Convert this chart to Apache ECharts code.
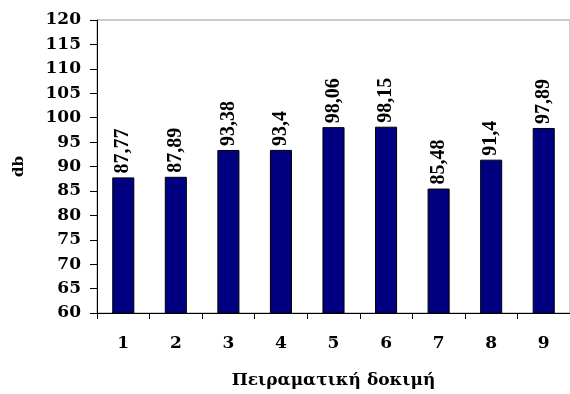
<!DOCTYPE html>
<html>
<head>
<meta charset="utf-8">
<script src="https://cdn.jsdelivr.net/npm/echarts@6/dist/echarts.min.js"></script>
<style>
  html, body { margin: 0; padding: 0; background: #fff; }
  #chart { width: 570px; height: 394px; }
</style>
</head>
<body>
<div id="chart"></div>
<script>
// Sound level per experimental trial
const trials = ['1', '2', '3', '4', '5', '6', '7', '8', '9'];
const levels = [87.77, 87.89, 93.38, 93.4, 98.06, 98.15, 85.48, 91.4, 97.89];
const yMin = 60, yMax = 120, yStep = 5;

const wideSerif = '"DejaVu Serif", "Liberation Serif", serif';
const timesSerif = '"Liberation Serif", "Times New Roman", serif';

const chart = echarts.init(document.getElementById('chart'), null, { renderer: 'canvas' });
chart.setOption({
  animation: false,
  backgroundColor: '#fff',
  grid: {
    left: 97, right: -4, top: 20, bottom: 78,
    show: true, borderColor: '#999', borderWidth: 1, backgroundColor: 'transparent'
  },
  xAxis: {
    type: 'category',
    data: trials,
    name: 'Πειραματική δοκιμή',
    nameLocation: 'middle',
    nameGap: 59,
    nameTextStyle: { fontFamily: wideSerif, fontWeight: 'bold', fontSize: 17, color: '#000' },
    axisLine: { lineStyle: { color: '#000', width: 1 } },
    axisTick: { show: true, length: 6, lineStyle: { color: '#000' } },
    axisLabel: { fontFamily: wideSerif, fontWeight: 'bold', fontSize: 17, margin: 22, color: '#000' }
  },
  yAxis: {
    type: 'value',
    min: yMin, max: yMax, interval: yStep,
    name: 'db',
    nameLocation: 'middle',
    nameGap: 70,
    nameRotate: 90,
    nameTextStyle: { fontFamily: wideSerif, fontWeight: 'bold', fontSize: 15, color: '#000' },
    axisLine: { show: true, lineStyle: { color: '#000', width: 1 } },
    axisTick: { show: true, length: 7, lineStyle: { color: '#000' } },
    splitLine: { show: false },
    axisLabel: { fontFamily: wideSerif, fontWeight: 'bold', fontSize: 17, margin: 16, color: '#000' }
  },
  series: [{
    type: 'bar',
    data: levels,
    barWidth: '42%',
    itemStyle: { color: '#000080', borderColor: '#000', borderWidth: 1 },
    label: {
      show: true,
      position: 'top',
      rotate: 90,
      align: 'left',
      verticalAlign: 'middle',
      distance: 4,
      fontFamily: timesSerif,
      fontWeight: 'bold',
      fontSize: 20,
      color: '#000',
      formatter: p => String(p.value).replace('.', ',')
    }
  }]
});
</script>
</body>
</html>
